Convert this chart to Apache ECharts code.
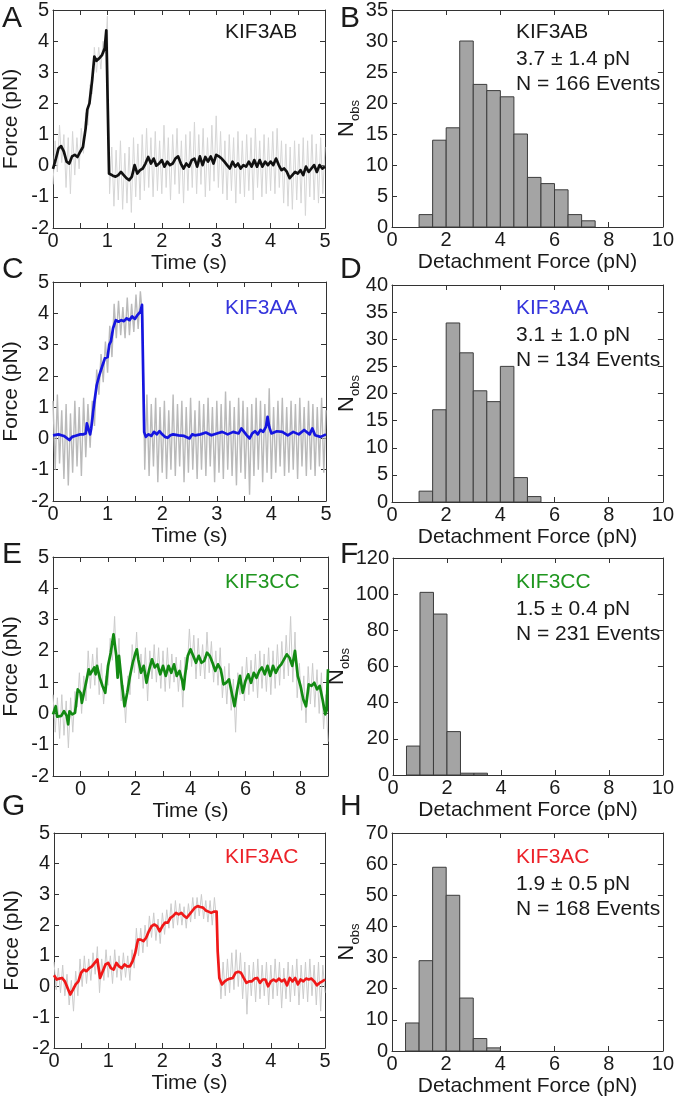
<!DOCTYPE html>
<html><head><meta charset="utf-8">
<script src="https://cdn.jsdelivr.net/npm/echarts/dist/echarts.min.js"></script>
<style>html,body{margin:0;padding:0;background:#fff}#c{width:677px;height:1102px}</style>
</head><body><div id="c"></div>
<script>
// ---------- DATA ----------
const constructs = ['KIF3AB', 'KIF3AA', 'KIF3CC', 'KIF3AC'];
const summaryLines = [['3.7 ± 1.4 pN', 'N = 166 Events'], ['3.1 ± 1.0 pN', 'N = 134 Events'], ['1.5 ± 0.4 pN', 'N = 231 Events'], ['1.9 ± 0.5 pN', 'N = 168 Events']];
const panelLetters = ['A', 'B', 'C', 'D', 'E', 'F', 'G', 'H'];

// smoothed traces [time s, force pN]
const traceAB = [[0,-0.1],[0.05,0.2],[0.1,0.55],[0.15,0.63],[0.2,0.45],[0.25,0.13],[0.3,0.07],[0.35,0.3],[0.4,0.35],[0.45,0.28],[0.5,0.45],[0.55,0.6],[0.6,1.2],[0.63,1.8],[0.67,2.0],[0.72,2.75],[0.76,3.5],[0.8,3.37],[0.85,3.45],[0.9,3.55],[0.95,3.77],[0.98,4.35],[1.0,4.4],[1.03,-0.25],[1.1,-0.32],[1.15,-0.35],[1.2,-0.3],[1.25,-0.2],[1.3,-0.3],[1.35,-0.4],[1.4,-0.46],[1.45,-0.35],[1.5,0.02],[1.55,-0.25],[1.6,-0.14],[1.65,-0.09],[1.7,0.07],[1.75,0.28],[1.8,0.07],[1.85,0.23],[1.9,0],[1.95,0.07],[2.0,0.18],[2.05,-0.03],[2.1,0.13],[2.15,0.02],[2.2,0.07],[2.25,0.23],[2.3,0.3],[2.35,0.07],[2.4,-0.09],[2.45,0.07],[2.5,-0.03],[2.55,0.18],[2.6,0.23],[2.65,-0.03],[2.7,0.3],[2.75,0.02],[2.8,0.28],[2.85,0.13],[2.9,0.3],[2.95,0.07],[3.0,0.35],[3.05,0.3],[3.1,0.23],[3.15,0.13],[3.2,0.02],[3.25,-0.09],[3.3,0.13],[3.35,-0.03],[3.4,0.07],[3.45,-0.09],[3.5,0.02],[3.55,-0.03],[3.6,0.13],[3.65,-0.03],[3.7,0.18],[3.75,-0.03],[3.8,0.18],[3.85,-0.03],[3.9,0.13],[3.95,0.02],[4.0,0.13],[4.05,0.02],[4.1,0.23],[4.15,0.02],[4.2,-0.14],[4.25,-0.09],[4.3,-0.2],[4.35,-0.4],[4.4,-0.3],[4.45,-0.2],[4.5,-0.25],[4.55,-0.14],[4.6,-0.3],[4.65,-0.03],[4.7,-0.2],[4.75,-0.09],[4.8,0.02],[4.85,-0.2],[4.9,0.02],[4.95,-0.09],[5.0,-0.03]];
const traceAA = [[0,0.1],[0.1,0.13],[0.2,0.08],[0.3,-0.05],[0.35,0.05],[0.4,0.08],[0.5,0.13],[0.55,0.13],[0.6,0.16],[0.62,0.48],[0.65,0.3],[0.68,0.13],[0.7,0.32],[0.75,1.07],[0.8,1.7],[0.85,2.03],[0.9,2.3],[0.95,2.56],[1.0,2.6],[1.03,3.0],[1.06,3.1],[1.1,3.52],[1.15,3.78],[1.2,3.73],[1.25,3.78],[1.3,3.75],[1.35,3.84],[1.4,3.78],[1.45,3.9],[1.5,3.82],[1.55,3.95],[1.6,4.05],[1.63,4.27],[1.67,0.2],[1.7,0.05],[1.75,0.13],[1.8,0.08],[1.85,0.21],[1.9,0.13],[1.95,0.23],[2.0,0.13],[2.05,0.05],[2.1,0.02],[2.15,0.1],[2.2,0.13],[2.3,0.1],[2.4,0.08],[2.5,0],[2.55,0.13],[2.6,0.1],[2.7,0.13],[2.8,0.19],[2.9,0.1],[3.0,0.16],[3.1,0.21],[3.2,0.13],[3.3,0.21],[3.4,0.16],[3.45,0.32],[3.5,0.21],[3.55,0.1],[3.6,0],[3.65,0.16],[3.7,0.23],[3.75,0.13],[3.8,0.27],[3.85,0.21],[3.9,0.37],[3.93,0.69],[3.96,0.37],[4.0,0.16],[4.1,0.23],[4.2,0.21],[4.3,0.1],[4.4,0.21],[4.5,0.13],[4.6,0.27],[4.7,0.13],[4.75,0.32],[4.8,0.1],[4.9,0.05],[5.0,0.13]];
const traceCC = [[-1,-0.03],[-0.9,0.23],[-0.85,-0.1],[-0.8,-0.06],[-0.7,-0.08],[-0.6,0.07],[-0.5,-0.08],[-0.45,-0.35],[-0.4,0.07],[-0.3,-0.03],[-0.2,0.02],[-0.1,0.77],[0,0.66],[0.05,0.34],[0.1,0.55],[0.2,0.98],[0.3,1.41],[0.35,1.25],[0.4,1.2],[0.5,1.47],[0.55,1.25],[0.6,1.52],[0.7,1.14],[0.8,0.88],[0.9,0.66],[1.0,1.52],[1.1,1.94],[1.2,2.53],[1.3,1.84],[1.35,1.14],[1.4,1.84],[1.5,0.98],[1.6,0.23],[1.7,0.66],[1.8,1.2],[1.9,1.62],[2.0,1.94],[2.05,2.05],[2.1,1.73],[2.2,1.3],[2.3,1.52],[2.4,0.98],[2.5,1.41],[2.6,1.73],[2.7,1.47],[2.8,1.57],[2.9,1.25],[3.0,1.52],[3.1,1.2],[3.2,1.52],[3.3,1.3],[3.4,1.57],[3.5,1.2],[3.6,1.36],[3.7,1.04],[3.75,0.77],[3.8,1.2],[3.9,1.84],[4.0,2.05],[4.1,1.84],[4.2,1.62],[4.3,1.84],[4.4,1.62],[4.5,1.68],[4.6,1.94],[4.7,1.84],[4.8,1.62],[4.9,1.36],[5.0,1.57],[5.1,1.41],[5.2,0.93],[5.3,0.98],[5.4,1.09],[5.5,0.66],[5.6,0.23],[5.7,0.77],[5.8,1.2],[5.9,0.66],[6.0,1.04],[6.1,1.25],[6.2,0.98],[6.3,1.3],[6.4,1.14],[6.5,1.36],[6.6,1.47],[6.7,1.25],[6.8,1.52],[6.9,1.2],[7.0,1.52],[7.1,1.3],[7.2,1.47],[7.3,1.57],[7.4,1.73],[7.5,1.89],[7.6,1.78],[7.7,1.52],[7.8,2.0],[7.9,1.2],[8.0,0.88],[8.1,0.45],[8.2,0.23],[8.3,0.93],[8.4,0.88],[8.5,0.98],[8.6,0.77],[8.7,0.88],[8.8,0.45],[8.9,-0.03],[8.95,0.1],[9.0,1.41]];
const traceAC = [[0,0.37],[0.05,0.23],[0.1,0.26],[0.15,0.28],[0.2,0.17],[0.25,-0.05],[0.3,-0.26],[0.35,-0.1],[0.4,0.07],[0.45,0.17],[0.5,0.45],[0.55,0.55],[0.6,0.5],[0.65,0.6],[0.7,0.66],[0.75,0.77],[0.8,0.88],[0.85,0.28],[0.9,0.5],[0.95,0.72],[1.0,0.77],[1.05,0.6],[1.1,0.55],[1.15,0.77],[1.2,0.66],[1.25,0.6],[1.3,0.72],[1.35,0.66],[1.4,0.66],[1.45,0.83],[1.5,1.1],[1.55,1.53],[1.6,1.53],[1.65,1.48],[1.7,1.59],[1.75,1.8],[1.8,1.97],[1.85,2.02],[1.9,1.97],[1.95,1.8],[2.0,1.97],[2.05,2.08],[2.1,2.08],[2.15,2.24],[2.2,2.3],[2.25,2.4],[2.3,2.35],[2.35,2.4],[2.4,2.3],[2.45,2.24],[2.5,2.35],[2.55,2.46],[2.6,2.57],[2.65,2.62],[2.7,2.59],[2.75,2.57],[2.8,2.48],[2.85,2.44],[2.9,2.4],[2.95,2.44],[3.0,2.44],[3.02,1.15],[3.05,0.28],[3.1,0.07],[3.15,0.17],[3.2,0.23],[3.25,0.26],[3.3,0.28],[3.35,0.45],[3.4,0.48],[3.45,0.45],[3.5,0.28],[3.55,0.12],[3.6,0.17],[3.65,0.17],[3.7,0.26],[3.75,0.28],[3.8,0.12],[3.85,0.23],[3.9,0.23],[3.95,0.01],[4.0,0.17],[4.05,0.23],[4.1,0.17],[4.15,0.26],[4.2,0.17],[4.25,0.23],[4.3,0.04],[4.35,0.28],[4.4,0.17],[4.45,0.28],[4.5,0.07],[4.55,0.23],[4.6,0.17],[4.65,0.26],[4.7,0.23],[4.75,0.26],[4.8,0.17],[4.85,0.04],[4.9,0.12],[4.95,0.17],[5.0,0.23]];

// raw (unfiltered) traces, evenly sampled over their time span
const rawSpanAB = [0, 5];
const rawAB = [-0.6,0.8,-0.2,1.3,0.1,1.0,-0.7,0.9,-0.9,1.1,-0.3,0.9,-0.1,1.2,0.4,1.7,1.3,2.6,2.3,3.8,3.0,3.8,3.1,4.0,3.6,4.8,-0.9,0.6,-1.3,0.5,-1.1,0.8,-1.4,0.4,-1.2,0.6,-1.5,0.9,-1.0,0.7,-1.1,1.0,-0.8,1.2,-0.7,0.9,-1.0,1.1,-0.8,0.8,-0.9,1.3,-0.7,0.9,-1.1,1.0,-0.6,1.2,-0.9,0.8,-1.2,1.0,-0.8,1.1,-0.7,1.4,-0.9,1.0,-0.6,1.2,-1.0,0.9,-0.8,1.3,-0.5,1.6,-0.7,1.1,-0.9,0.8,-1.1,1.0,-0.8,0.9,-1.2,1.1,-0.9,0.8,-1.0,1.0,-0.8,0.9,-1.1,1.2,-0.7,0.8,-1.0,1.0,-0.9,0.9,-0.8,1.1,-0.9,1.2,-0.7,0.8,-1.2,0.7,-1.3,0.6,-1.4,0.8,-1.1,0.7,-1.2,0.9,-1.6,0.8,-1.0,1.0,-1.1,0.7,-1.2,0.9,-0.9,0.6];
const rawSpanAA = [0, 5];
const rawAA = [1.2,-1.0,1.4,-0.8,0.9,-1.3,1.1,-1.5,0.8,-1.1,1.2,-0.9,1.0,-1.2,1.3,-0.6,1.1,-0.3,1.2,0.4,2.2,1.4,2.7,1.8,3.1,2.1,3.6,2.6,4.3,3.2,4.4,3.3,4.2,3.2,4.5,3.3,4.3,3.4,4.6,3.5,4.7,3.9,-1.0,1.4,-1.2,1.1,-0.9,1.3,-1.4,1.0,-1.1,1.2,-1.3,0.9,-1.0,1.4,-1.2,1.1,-0.9,1.2,-1.4,1.0,-1.1,1.3,-1.0,0.9,-1.3,1.2,-1.0,1.1,-1.2,1.3,-0.9,1.0,-1.4,1.2,-1.1,1.1,-1.3,1.5,-1.0,1.2,-1.2,1.0,-1.5,1.3,-1.1,1.2,-1.3,1.0,-1.8,1.1,-1.2,1.3,-1.0,1.2,-1.4,1.1,-1.1,1.6,-1.3,1.0,-1.1,1.2,-0.9,1.3,-1.2,1.0,-1.1,1.2,-1.0,1.1,-1.3,1.3,-0.9,1.0,-1.2,1.2,-1.0,1.1,-1.2,1.0,-0.9,1.3,-1.1,0.9];
const rawSpanCC = [-1, 9];
const rawCC = [0.6,-0.6,0.5,-0.8,0.6,-0.7,0.4,-1.1,0.5,-0.6,0.7,0.2,1.3,0.0,1.2,0.4,2.0,0.8,1.9,0.9,2.1,0.6,1.6,0.3,1.2,0.9,2.4,1.7,3.1,1.2,2.4,0.4,0.9,-0.3,1.2,0.6,2.2,1.3,2.6,1.1,1.9,0.8,2.1,0.4,2.0,1.1,2.2,1.0,2.1,0.8,2.0,0.7,2.1,0.8,1.9,1.0,1.8,0.7,1.7,0.2,1.8,1.4,2.7,1.5,2.5,1.1,2.4,1.2,2.2,1.1,2.6,1.3,2.3,1.0,2.0,0.9,2.1,0.5,1.5,0.3,1.6,0.1,1.1,-0.6,1.3,0.6,1.5,0.4,1.8,0.6,1.7,0.7,1.9,0.5,2.0,0.8,1.9,0.7,2.1,0.6,2.0,0.8,2.2,0.9,2.3,1.1,2.5,1.2,3.1,1.0,2.6,0.5,1.6,0.1,1.2,-0.3,1.5,0.3,1.6,0.2,1.4,0.0,1.3,-0.5,0.6,-0.9];
const rawSpanAC = [0, 5];
const rawAC = [0.8,-0.1,0.6,-0.2,0.7,-0.3,0.4,-0.6,0.2,-0.8,0.5,-0.3,0.9,0.0,1.0,0.1,0.9,0.2,1.1,0.4,1.3,-0.2,0.9,0.2,1.2,0.3,1.0,0.1,1.2,0.3,1.0,0.2,1.1,0.3,1.0,0.2,1.2,0.6,1.9,1.0,1.9,1.1,2.0,1.3,2.3,1.6,2.4,1.5,2.2,1.4,2.4,1.7,2.5,1.9,2.7,1.9,2.8,2.0,2.7,2.0,2.6,1.9,2.7,2.1,2.9,2.2,2.9,2.3,3.0,2.2,2.8,2.1,2.8,2.0,2.9,2.1,0.9,-0.4,0.8,-0.3,0.9,-0.2,1.1,-0.1,1.2,0.0,1.1,-0.4,0.8,-0.9,0.7,-0.3,0.8,-0.5,0.9,-0.4,0.7,-0.3,0.8,-0.6,0.7,-0.4,0.9,-0.3,0.8,-0.7,0.6,-0.4,0.8,-0.5,0.7,-0.3,0.9,-0.6,0.7,-0.4,0.8,-0.5,0.9,-0.3,0.7,-0.6,0.8,-0.8,0.7,-0.2];

// detachment force histograms (bin width 0.5 pN)
const binWidth = 0.5;
const histStartAB = 1.0, histAB = [2,14,16,30,23,22,21,15,8,7,6,2,1];
const histStartAA = 1.0, histAA = [2,17,33,27.5,20.5,18.5,25,4.5,1];
const histStartCC = 0.5, histCC = [16,101,89,24,1,1];
const histStartAC = 0.5, histAC = [9,29,59,50,17,4,1];

// axis ranges / ticks
const forceRange = [-2, 5], forceStep = 1;
const timeRanges = [[0,5],[0,5],[-1,9],[0,5]];
const timeSteps = [0.5, 0.5, 1, 0.5];
const detachRange = [0, 10], detachStep = 2;
const nobsMax = [35, 40, 120, 70], nobsStep = [5, 5, 20, 10];

// ---------- STYLE / LAYOUT ----------
const FONT = '"Liberation Sans", Arial, Helvetica, sans-serif';
const INK = '#1a1a1a', AX = '#333333';
const lineColors = ['#111111', '#1515e0', '#128a12', '#f01818'];
const labelColors = ['#1a1a1a', '#3535dc', '#1f961f', '#ec2229'];
const rawColors = ['#d6d6d6', '#bababa', '#cbcbcb', '#cbcbcb'];
const rawWidths = [1.0, 1.4, 1.0, 1.0];
const leftGrids = [[52,8,273,220],[53,282,273,219],[52,557,276,219],[54,833,271,215]];
const rightGrids = [[392,8,274,219],[392,285,276,217],[393,558,277,217],[392,833,277,218]];
const rowLetterTop = [4, 255, 540, 792];
const rowAnnotTop = [22, 298, 572, 847];

const traces = [traceAB, traceAA, traceCC, traceAC];
const raws = [rawAB, rawAA, rawCC, rawAC];
const rawSpans = [rawSpanAB, rawSpanAA, rawSpanCC, rawSpanAC];
const hists = [histAB, histAA, histCC, histAC];
const histStarts = [histStartAB, histStartAA, histStartCC, histStartAC];

const grid = [], xAxis = [], yAxis = [], series = [], graphic = [];
const txt = (size, color) => ({ fontSize: size, color: color || INK, fontFamily: FONT });

function addAxes(gi, xr, xi, xfmt, xname, yr, yi, yname, yNameGap, yRich) {
  const common = (extra) => Object.assign({
    gridIndex: gi, type: 'value', splitLine: { show: false },
    axisLine: { show: true, onZero: false, lineStyle: { color: AX, width: 1 } },
    axisTick: { show: true, inside: true, length: 5, lineStyle: { color: AX, width: 1 } }
  }, extra);
  xAxis.push(common({ position: 'bottom', min: xr[0], max: xr[1], interval: xi,
    axisLabel: Object.assign({ margin: 3, formatter: xfmt, showMinLabel: true, showMaxLabel: true }, txt(20)),
    name: xname, nameLocation: 'middle', nameGap: 25, nameTextStyle: txt(21) }));
  xAxis.push(common({ position: 'top', min: xr[0], max: xr[1], interval: xi, axisLabel: { show: false } }));
  const yl = { position: 'left', min: yr[0], max: yr[1], interval: yi,
    axisLabel: Object.assign({ margin: 4, showMinLabel: true, showMaxLabel: true }, txt(20)),
    name: yname, nameLocation: 'middle', nameGap: yNameGap, nameTextStyle: Object.assign(txt(21), yRich ? { rich: yRich } : {}) };
  yAxis.push(common(yl));
  yAxis.push(common({ position: 'right', min: yr[0], max: yr[1], interval: yi, axisLabel: { show: false } }));
}

const nobsRich = {
  n: { fontSize: 22, fontFamily: FONT, color: INK, lineHeight: 30, verticalAlign: 'middle' },
  s: { fontSize: 13, fontFamily: FONT, color: INK, lineHeight: 30, verticalAlign: 'bottom' }
};

for (let r = 0; r < 4; r++) {
  // ---- left: force trace ----
  const gL = grid.length;
  const lg = leftGrids[r];
  grid.push({ left: lg[0], top: lg[1], width: lg[2], height: lg[3], show: false });
  const evenOnly = r === 2;
  addAxes(gL, timeRanges[r], timeSteps[r],
    v => evenOnly ? (Math.round(v) % 2 === 0 ? String(v) : '') : (Number.isInteger(v) ? String(v) : ''),
    'Time (s)', forceRange, forceStep, 'Force (pN)', 31, null);
  const span = rawSpans[r], raw = raws[r];
  const dt = (span[1] - span[0]) / (raw.length - 1);
  series.push({ type: 'line', xAxisIndex: 2 * gL, yAxisIndex: 2 * gL, symbol: 'none', silent: true, animation: false,
    data: raw.map((v, i) => [span[0] + i * dt, v]), lineStyle: { color: rawColors[r], width: rawWidths[r] } });
  series.push({ type: 'line', xAxisIndex: 2 * gL, yAxisIndex: 2 * gL, symbol: 'none', silent: true, animation: false,
    data: traces[r], lineStyle: { color: lineColors[r], width: 2.7, join: 'round' } });

  // ---- right: histogram ----
  const gR = grid.length;
  const rg = rightGrids[r];
  grid.push({ left: rg[0], top: rg[1], width: rg[2], height: rg[3], show: false });
  addAxes(gR, detachRange, detachStep, v => String(v), 'Detachment Force (pN)',
    [0, nobsMax[r]], nobsStep[r], '{n|N}{s|obs}', 26, nobsRich);
  const st = histStarts[r];
  series.push({ type: 'custom', xAxisIndex: 2 * gR, yAxisIndex: 2 * gR, silent: true, animation: false,
    data: hists[r].map((c, i) => [st + i * binWidth, st + (i + 1) * binWidth, c]),
    renderItem: (params, api) => {
      const p0 = api.coord([api.value(0), 0]);
      const p1 = api.coord([api.value(1), api.value(2)]);
      return { type: 'rect', shape: { x: p0[0], y: p1[1], width: p1[0] - p0[0], height: p0[1] - p1[1] },
        style: { fill: '#a4a4a4', stroke: '#3c3c3c', lineWidth: 1 } };
    } });

  // ---- texts ----
  graphic.push({ type: 'text', left: 2, top: rowLetterTop[r], style: { text: panelLetters[2 * r], font: '30px ' + FONT, fill: INK } });
  graphic.push({ type: 'text', left: 340, top: rowLetterTop[r], style: { text: panelLetters[2 * r + 1], font: '30px ' + FONT, fill: INK } });
  graphic.push({ type: 'text', left: 225, top: rowAnnotTop[r], style: { text: constructs[r], font: '21px ' + FONT, fill: labelColors[r] } });
  graphic.push({ type: 'text', left: 516, top: rowAnnotTop[r], style: { text: constructs[r], font: '21px ' + FONT, fill: labelColors[r] } });
  graphic.push({ type: 'text', left: 516, top: rowAnnotTop[r] + 27, style: { text: summaryLines[r][0], font: '21px ' + FONT, fill: INK } });
  graphic.push({ type: 'text', left: 516, top: rowAnnotTop[r] + 52, style: { text: summaryLines[r][1], font: '21px ' + FONT, fill: INK } });
}

const chart = echarts.init(document.getElementById('c'), null, { renderer: 'canvas' });
chart.setOption({ animation: false, backgroundColor: '#fff', grid, xAxis, yAxis, series, graphic });
</script></body></html>
